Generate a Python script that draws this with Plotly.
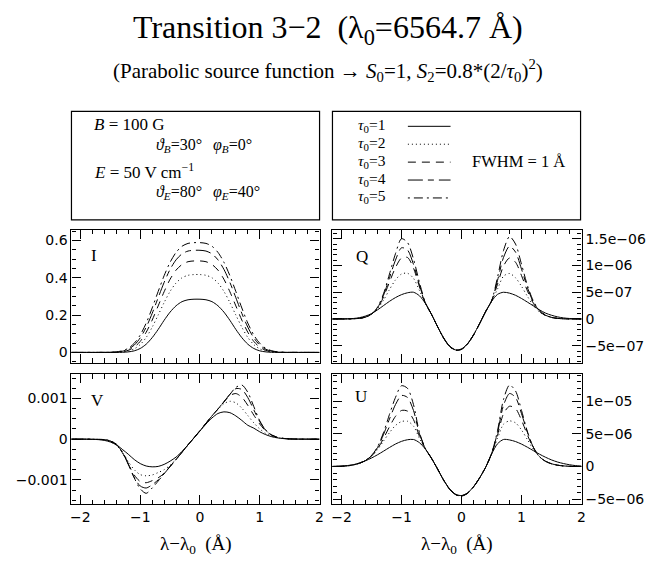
import plotly.graph_objects as go

# ---------------- data ----------------
X = [-2.2, -2.1, -2.0, -1.9, -1.8, -1.7, -1.6, -1.5, -1.4, -1.3, -1.2, -1.1, -1.0,
     -0.9, -0.8, -0.7, -0.6, -0.5, -0.4, -0.3, -0.2, -0.1, 0.0, 0.1, 0.2, 0.3,
     0.4, 0.5, 0.6, 0.7, 0.8, 0.9, 1.0, 1.1, 1.2, 1.3, 1.4, 1.5, 1.6, 1.7, 1.8,
     1.9, 2.0]

TAU_LABELS = ["1", "2", "3", "4", "5"]

# Stokes I
I_T1 = [0, 0, 0, 0, 0, 0, 0, 0, 0.0002, 0.0007, 0.0028, 0.0084, 0.021, 0.044, 0.079,
        0.123, 0.172, 0.216, 0.250, 0.272, 0.282, 0.285, 0.285, 0.282, 0.272, 0.250,
        0.216, 0.172, 0.123, 0.079, 0.044, 0.021, 0.0084, 0.0028, 0.0007, 0.0002,
        0, 0, 0, 0, 0, 0, 0]
I_T2 = [0, 0, 0, 0, 0, 0, 0, 0.0001, 0.0006, 0.0023, 0.007, 0.019, 0.042, 0.080, 0.135,
        0.200, 0.267, 0.327, 0.372, 0.400, 0.413, 0.417, 0.417, 0.413, 0.400, 0.372,
        0.327, 0.267, 0.200, 0.135, 0.080, 0.042, 0.019, 0.007, 0.0023, 0.0006, 0.0001,
        0, 0, 0, 0, 0, 0]
I_T3 = [0, 0, 0, 0, 0, 0, 0.0001, 0.0003, 0.0011, 0.004, 0.0115, 0.028, 0.059, 0.108,
        0.173, 0.249, 0.325, 0.392, 0.441, 0.471, 0.486, 0.490, 0.490, 0.486, 0.471,
        0.441, 0.392, 0.325, 0.249, 0.173, 0.108, 0.059, 0.028, 0.0115, 0.004, 0.0011,
        0.0003, 0.0001, 0, 0, 0, 0, 0]
I_T4 = [0, 0, 0, 0, 0, 0, 0.0002, 0.0005, 0.002, 0.0064, 0.017, 0.039, 0.078, 0.135,
        0.209, 0.293, 0.375, 0.445, 0.496, 0.528, 0.543, 0.547, 0.547, 0.543, 0.528,
        0.496, 0.445, 0.375, 0.293, 0.209, 0.135, 0.078, 0.039, 0.017, 0.0064, 0.002,
        0.0005, 0.0002, 0, 0, 0, 0, 0]
I_T5 = [0, 0, 0, 0, 0, 0.0001, 0.0002, 0.0008, 0.003, 0.0088, 0.022, 0.049, 0.093, 0.157,
        0.238, 0.326, 0.411, 0.483, 0.536, 0.569, 0.584, 0.588, 0.588, 0.584, 0.569,
        0.536, 0.483, 0.411, 0.326, 0.238, 0.157, 0.093, 0.049, 0.022, 0.0088, 0.003,
        0.0008, 0.0002, 0.0001, 0, 0, 0, 0]

# Stokes Q, in units of 1e-6
Q_T1 = [0, 0, 0.002, 0.005, 0.01, 0.025, 0.055, 0.10, 0.17, 0.25, 0.33, 0.40, 0.455,
        0.49, 0.50, 0.433, 0.287, 0.087, -0.139, -0.348, -0.502, -0.576, -0.559, -0.461,
        -0.296, -0.089, 0.133, 0.329, 0.46, 0.50, 0.483, 0.443, 0.383, 0.314, 0.243,
        0.17, 0.11, 0.07, 0.04, 0.02, 0.01, 0.004, 0.001]
Q_T2 = [0, 0, 0, 0.002, 0.005, 0.015, 0.038, 0.09, 0.19, 0.35, 0.55, 0.73, 0.84, 0.855,
        0.76, 0.53, 0.29, 0.087, -0.14, -0.35, -0.505, -0.578, -0.562, -0.463, -0.297,
        -0.089, 0.135, 0.335, 0.56, 0.80, 0.85, 0.77, 0.61, 0.42, 0.25, 0.13, 0.065,
        0.03, 0.012, 0.004, 0.001, 0, 0]
Q_T3 = [0, 0, 0, 0.001, 0.004, 0.013, 0.035, 0.09, 0.20, 0.41, 0.69, 0.96, 1.14, 1.15,
        0.95, 0.60, 0.29, 0.087, -0.14, -0.352, -0.507, -0.58, -0.564, -0.465, -0.298,
        -0.09, 0.135, 0.335, 0.65, 0.99, 1.14, 1.06, 0.81, 0.52, 0.29, 0.14, 0.066,
        0.028, 0.011, 0.004, 0.001, 0, 0]
Q_T4 = [0, 0, 0, 0.001, 0.004, 0.012, 0.035, 0.09, 0.21, 0.44, 0.77, 1.10, 1.33, 1.29,
        1.02, 0.63, 0.295, 0.087, -0.141, -0.354, -0.51, -0.583, -0.566, -0.467, -0.299,
        -0.09, 0.135, 0.335, 0.72, 1.15, 1.36, 1.25, 0.93, 0.58, 0.31, 0.15, 0.07,
        0.03, 0.012, 0.004, 0.001, 0, 0]
Q_T5 = [0, 0, 0, 0.001, 0.004, 0.012, 0.035, 0.09, 0.22, 0.47, 0.84, 1.22, 1.50, 1.43,
        1.12, 0.68, 0.30, 0.087, -0.142, -0.356, -0.513, -0.586, -0.568, -0.469, -0.30,
        -0.09, 0.135, 0.335, 0.78, 1.28, 1.54, 1.40, 1.02, 0.62, 0.33, 0.16, 0.075,
        0.03, 0.012, 0.004, 0.001, 0, 0]

# Stokes V, in units of 1e-3
V_T1 = [0, 0, -0.001, -0.002, -0.005, -0.012, -0.03, -0.07, -0.14, -0.25, -0.37, -0.50,
        -0.60, -0.66, -0.68, -0.67, -0.62, -0.54, -0.44, -0.30, -0.14, 0.03, 0.20, 0.37,
        0.52, 0.63, 0.67, 0.65, 0.57, 0.46, 0.34, 0.27, 0.18, 0.11, 0.06, 0.03, 0.013,
        0.005, 0.002, 0, 0, 0, 0]
V_T2 = [0, 0, 0, -0.001, -0.003, -0.008, -0.02, -0.06, -0.15, -0.32, -0.55, -0.75, -0.87,
        -0.90, -0.88, -0.82, -0.75, -0.64, -0.49, -0.32, -0.14, 0.035, 0.21, 0.39, 0.57,
        0.73, 0.87, 0.93, 0.89, 0.76, 0.58, 0.40, 0.25, 0.14, 0.07, 0.035, 0.015, 0.006,
        0.002, 0, 0, 0, 0]
V_T3 = [0, 0, 0, -0.001, -0.003, -0.007, -0.015, -0.05, -0.14, -0.33, -0.61, -0.88, -1.04,
        -1.07, -1.02, -0.95, -0.84, -0.67, -0.50, -0.32, -0.14, 0.035, 0.21, 0.39, 0.57,
        0.74, 0.91, 1.07, 1.12, 1.03, 0.83, 0.59, 0.37, 0.20, 0.10, 0.045, 0.018, 0.006,
        0.002, 0, 0, 0, 0]
V_T4 = [0, 0, 0, -0.001, -0.003, -0.006, -0.012, -0.045, -0.13, -0.32, -0.62, -0.94, -1.15,
        -1.20, -1.12, -1.00, -0.85, -0.67, -0.50, -0.32, -0.14, 0.035, 0.21, 0.39, 0.57,
        0.74, 0.92, 1.10, 1.24, 1.22, 1.02, 0.72, 0.43, 0.22, 0.10, 0.045, 0.018, 0.006,
        0.002, 0, 0, 0, 0]
V_T5 = [0, 0, 0, -0.001, -0.002, -0.005, -0.01, -0.04, -0.12, -0.30, -0.60, -0.95, -1.22,
        -1.33, -1.20, -1.03, -0.85, -0.67, -0.50, -0.32, -0.14, 0.035, 0.21, 0.39, 0.57,
        0.74, 0.92, 1.10, 1.27, 1.33, 1.15, 0.80, 0.45, 0.22, 0.10, 0.04, 0.015, 0.005,
        0.002, 0, 0, 0, 0]

# Stokes U, in units of 1e-6
U_T1 = [0.01, 0.03, 0.07, 0.15, 0.28, 0.55, 0.88, 1.30, 1.80, 2.35, 2.92, 3.45, 3.86,
        4.11, 4.15, 3.65, 2.65, 1.26, -0.35, -2.03, -3.40, -4.25, -4.46, -4.05, -3.10,
        -1.75, -0.16, 1.89, 3.49, 4.15, 4.08, 3.83, 3.44, 2.95, 2.42, 1.89, 1.42, 1.01,
        0.69, 0.45, 0.27, 0.14, 0.07]
U_T2 = [0, 0.015, 0.05, 0.12, 0.27, 0.52, 0.92, 1.6, 2.6, 3.9, 5.2, 6.3, 6.9, 6.95, 6.2,
        4.3, 2.68, 1.26, -0.36, -2.05, -3.42, -4.27, -4.48, -4.07, -3.11, -1.76, -0.15,
        1.95, 4.3, 6.5, 7.0, 6.7, 5.6, 4.1, 2.6, 1.5, 0.82, 0.44, 0.22, 0.10, 0.04,
        0.015, 0]
U_T3 = [0, 0.01, 0.04, 0.10, 0.25, 0.50, 0.90, 1.6, 2.7, 4.3, 6.1, 7.7, 8.6, 8.5, 7.2,
        4.6, 2.7, 1.26, -0.36, -2.06, -3.44, -4.29, -4.50, -4.09, -3.12, -1.77, -0.15,
        1.95, 4.8, 8.1, 9.25, 8.9, 7.1, 4.8, 2.8, 1.5, 0.8, 0.42, 0.20, 0.09, 0.03,
        0.01, 0]
U_T4 = [0, 0.01, 0.04, 0.10, 0.25, 0.50, 0.92, 1.65, 2.9, 4.9, 7.3, 9.5, 10.9, 10.6, 8.6,
        5.0, 2.72, 1.26, -0.37, -2.07, -3.46, -4.31, -4.52, -4.11, -3.13, -1.78, -0.15,
        1.95, 5.2, 9.4, 11.2, 10.6, 8.1, 5.2, 2.9, 1.5, 0.8, 0.42, 0.20, 0.09, 0.03,
        0.01, 0]
U_T5 = [0, 0.01, 0.04, 0.10, 0.25, 0.50, 0.95, 1.7, 3.0, 5.2, 8.0, 10.6, 12.4, 12.0, 9.5,
        5.2, 2.75, 1.26, -0.38, -2.08, -3.48, -4.33, -4.55, -4.13, -3.14, -1.79, -0.15,
        1.95, 5.5, 10.3, 12.5, 11.6, 8.6, 5.3, 2.9, 1.5, 0.8, 0.42, 0.20, 0.09, 0.03,
        0.01, 0]

# tick labels
X_TICKS = [-2, -1, 0, 1, 2]
X_TICKTEXT = ["\u22122", "\u22121", "0", "1", "2"]
I_TICKS = [0, 0.2, 0.4, 0.6]
I_TICKTEXT = ["0", "0.2", "0.4", "0.6"]
V_TICKS = [-0.001, 0, 0.001]
V_TICKTEXT = ["\u22120.001", "0", "0.001"]
Q_TICKS = [-5e-7, 0, 5e-7, 1e-6, 1.5e-6]
Q_TICKTEXT = ["\u22125e\u221207", "0", "5e\u221207", "1e\u221206", "1.5e\u221206"]
U_TICKS = [-5e-6, 0, 5e-6, 1e-5]
U_TICKTEXT = ["\u22125e\u221206", "0", "5e\u221206", "1e\u221205"]

# ---------------- figure ----------------
W, H = 658, 563
SERIF = "Liberation Serif"
SANS = "DejaVu Sans"
DASHES = ["solid", "1px,3px", "8px,6px", "15px,5px,6px,5px", "2px,4px,9px,4px"]

def px_x(v):
    return v / W

def px_y(v):
    return 1 - v / H

XL = [px_x(71), px_x(321)]
XR = [px_x(334), px_x(585)]
YT = [px_y(365), px_y(231)]
YB = [px_y(507), px_y(376)]

fig = go.Figure()

panels = [
    ("x", "y", [I_T1, I_T2, I_T3, I_T4, I_T5], 1.0),
    ("x2", "y2", [Q_T1, Q_T2, Q_T3, Q_T4, Q_T5], 1e-6),
    ("x3", "y3", [V_T1, V_T2, V_T3, V_T4, V_T5], 1e-3),
    ("x4", "y4", [U_T1, U_T2, U_T3, U_T4, U_T5], 1e-6),
]
for xa, ya, series, unit in panels:
    for k, vals in enumerate(series):
        fig.add_trace(go.Scatter(
            x=X, y=[v * unit for v in vals], mode="lines",
            line=dict(color="black", width=1, dash=DASHES[k], shape="spline", smoothing=0.8),
            xaxis=xa, yaxis=ya, showlegend=False, hoverinfo="skip"))

def xaxis_cfg(domain, anchor, labels):
    return dict(domain=domain, anchor=anchor, range=[-2.15, 2.0],
                tickmode="array", tickvals=X_TICKS, ticktext=X_TICKTEXT,
                showticklabels=labels, ticks="inside", ticklen=9, tickwidth=1,
                tickcolor="black", showline=True, linecolor="black", linewidth=1.2,
                mirror="ticks", showgrid=False, zeroline=False,
                minor=dict(tick0=0, dtick=0.2, ticks="inside", ticklen=4.5,
                           tickwidth=1, tickcolor="black", showgrid=False),
                tickfont=dict(family=SANS, size=14, color="black"))

def yaxis_cfg(domain, anchor, rng, tv, tt, mdt, side):
    return dict(domain=domain, anchor=anchor, range=rng, side=side,
                tickmode="array", tickvals=tv, ticktext=tt,
                ticks="inside", ticklen=9, tickwidth=1, tickcolor="black",
                showline=True, linecolor="black", linewidth=1.2, mirror="ticks",
                showgrid=False, zeroline=False,
                minor=dict(tick0=0, dtick=mdt, ticks="inside", ticklen=4.5,
                           tickwidth=1, tickcolor="black", showgrid=False),
                tickfont=dict(family=SANS, size=14, color="black"))

fig.update_layout(
    width=W, height=H, margin=dict(l=0, r=0, t=0, b=0),
    paper_bgcolor="white", plot_bgcolor="white",
    xaxis=xaxis_cfg(XL, "y", False),
    xaxis2=xaxis_cfg(XR, "y2", False),
    xaxis3=xaxis_cfg(XL, "y3", True),
    xaxis4=xaxis_cfg(XR, "y4", True),
    yaxis=yaxis_cfg(YT, "x", [-0.057, 0.657], I_TICKS, I_TICKTEXT, 0.05, "left"),
    yaxis2=yaxis_cfg(YT, "x2", [-0.823e-6, 1.667e-6], Q_TICKS, Q_TICKTEXT, 1e-7, "right"),
    yaxis3=yaxis_cfg(YB, "x3", [-0.0016, 0.0016], V_TICKS, V_TICKTEXT, 0.00025, "left"),
    yaxis4=yaxis_cfg(YB, "x4", [-5.8e-6, 14.2e-6], U_TICKS, U_TICKTEXT, 1e-6, "right"),
)

BOX_TOP, BOX_BOT = 112, 221
shapes = []
# info boxes
for x0, x1 in [(71, 321), (334, 584)]:
    shapes.append(dict(type="rect", xref="paper", yref="paper",
                       x0=px_x(x0), x1=px_x(x1), y0=px_y(BOX_BOT), y1=px_y(BOX_TOP),
                       line=dict(color="black", width=1.2), fillcolor="rgba(0,0,0,0)"))
LEG_Y = [126, 144, 162, 180, 198]
for k in range(5):
    shapes.append(dict(type="line", xref="paper", yref="paper",
                       x0=px_x(410), x1=px_x(453), y0=px_y(LEG_Y[k] + 1), y1=px_y(LEG_Y[k] + 1),
                       line=dict(color="black", width=1, dash=DASHES[k])))
fig.update_layout(shapes=shapes)

ann = []
def text(x, y, s, size, family=SERIF, xanchor="left"):
    ann.append(dict(x=px_x(x), y=px_y(y), xref="paper", yref="paper", text=s,
                    showarrow=False, xanchor=xanchor, yanchor="middle",
                    font=dict(family=family, size=size, color="black")))

text(330, 30, "Transition 3\u22122  (\u03bb<sub>0</sub>=6564.7 \u00c5)", 32, xanchor="center")
text(330, 71, "(Parabolic source function \u2192 <i>S</i><sub>0</sub>=1, "
              "<i>S</i><sub>2</sub>=0.8*(2/<i>\u03c4</i><sub>0</sub>)<sup>2</sup>)", 21,
     xanchor="center")

text(92, 125, "<i>B</i> = 100 G", 17)
text(154, 146, "<i>\u03d1</i><sub><i>B</i></sub>=30\u00b0", 16)
text(212, 146, "<i>\u03c6</i><sub><i>B</i></sub>=0\u00b0", 16)
text(92, 172, "<i>E</i> = 50 V cm<sup>\u22121</sup>", 17)
text(154, 194, "<i>\u03d1</i><sub><i>E</i></sub>=80\u00b0", 16)
text(212, 194, "<i>\u03c6</i><sub><i>E</i></sub>=40\u00b0", 16)

for k in range(5):
    text(358, LEG_Y[k], "<i>\u03c4</i><sub>0</sub>=" + TAU_LABELS[k], 15.5)
text(473, 162, "FWHM = 1 \u00c5", 16.5)

# panel labels
text(89, 257, "I", 17)
text(356, 258, "Q", 17)
text(89, 403, "V", 17)
text(355, 399, "U", 17)

# x axis titles
text(196, 548, "\u03bb\u2212\u03bb<sub>0</sub>  (\u00c5)", 19, xanchor="center")
text(459, 548, "\u03bb\u2212\u03bb<sub>0</sub>  (\u00c5)", 19, xanchor="center")

fig.update_layout(annotations=ann)
fig.write_html("out.html")
